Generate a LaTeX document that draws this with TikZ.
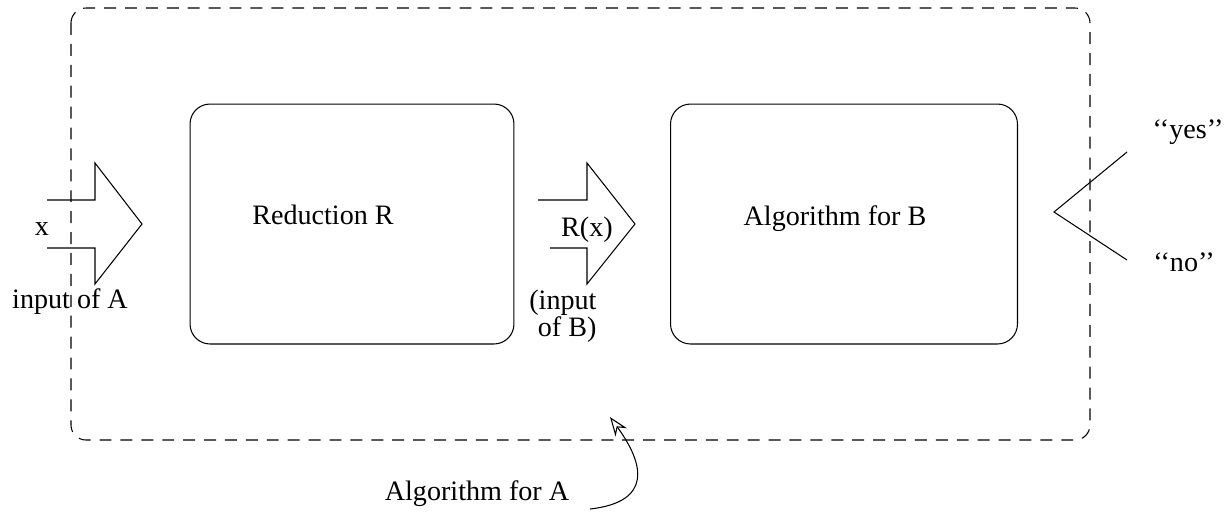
\documentclass[tikz,border=0pt]{standalone}
\usepackage{fontspec}
\setmainfont{Liberation Serif}
\usetikzlibrary{arrows.meta}

\begin{document}
\begin{tikzpicture}[x=0.02cm,y=-0.02cm,line width=0.6pt,
  box/.style={draw,rounded corners=0.4cm,minimum width=6.48cm,minimum height=4.8cm,inner sep=0pt},
  txt/.style={font=\fontsize{16}{13}\selectfont,inner sep=0pt,anchor=base}]
  \useasboundingbox (0,0) rectangle (1228,512);
  % the outer algorithm
  \draw[dash pattern=on 6.8pt off 5.1pt,rounded corners=0.3cm] (71,8) rectangle (1090,440);
  \node[box] (red) at (352,224) {};
  \node[box,minimum width=6.94cm] (algB) at (844,224) {};
  \node[txt] (redtext) at (323,224) {Reduction R};
  \node[txt] (algBtext) at (835,225) {Algorithm for B};
  % input arrows
  \draw (47,200) -- (95,200) -- (95,163) -- (142,224) -- (95,284) -- (95,248) -- (47,248);
  \draw (538,200) -- (587,200) -- (587,163) -- (635,224) -- (587,284) -- (587,248) -- (550,248);
  \node[txt] (x) at (42,235) {x};
  \node[txt] (inA) at (70,308) {input of A};
  \node[txt] (Rx) at (587,236) {R(x)};
  \node[txt,align=right,anchor=north east] (inB) at (597,289) {(input\\of B)};
  % answers
  \coordinate (fork) at (1054,212);
  \coordinate (yesend) at (1127,152);
  \coordinate (noend) at (1127,260);
  \draw (yesend) -- (fork) -- (noend);
  \node[txt] (yes) at (1188,138) {\textquoteleft\textquoteleft yes\textquoteright\textquoteright};
  \node[txt] (no) at (1184,271) {\textquoteleft\textquoteleft no\textquoteright\textquoteright};
  % label of the whole
  \node[txt] (algA) at (477,500) {Algorithm for A};
  \coordinate (algAend) at (590,509);
  \coordinate (boxpoint) at (610,417);
  \draw[-{Stealth[open,length=0.38cm,width=0.28cm]}] (algAend) .. controls (652,502) and (645,465) .. (boxpoint);
\end{tikzpicture}
\end{document}
